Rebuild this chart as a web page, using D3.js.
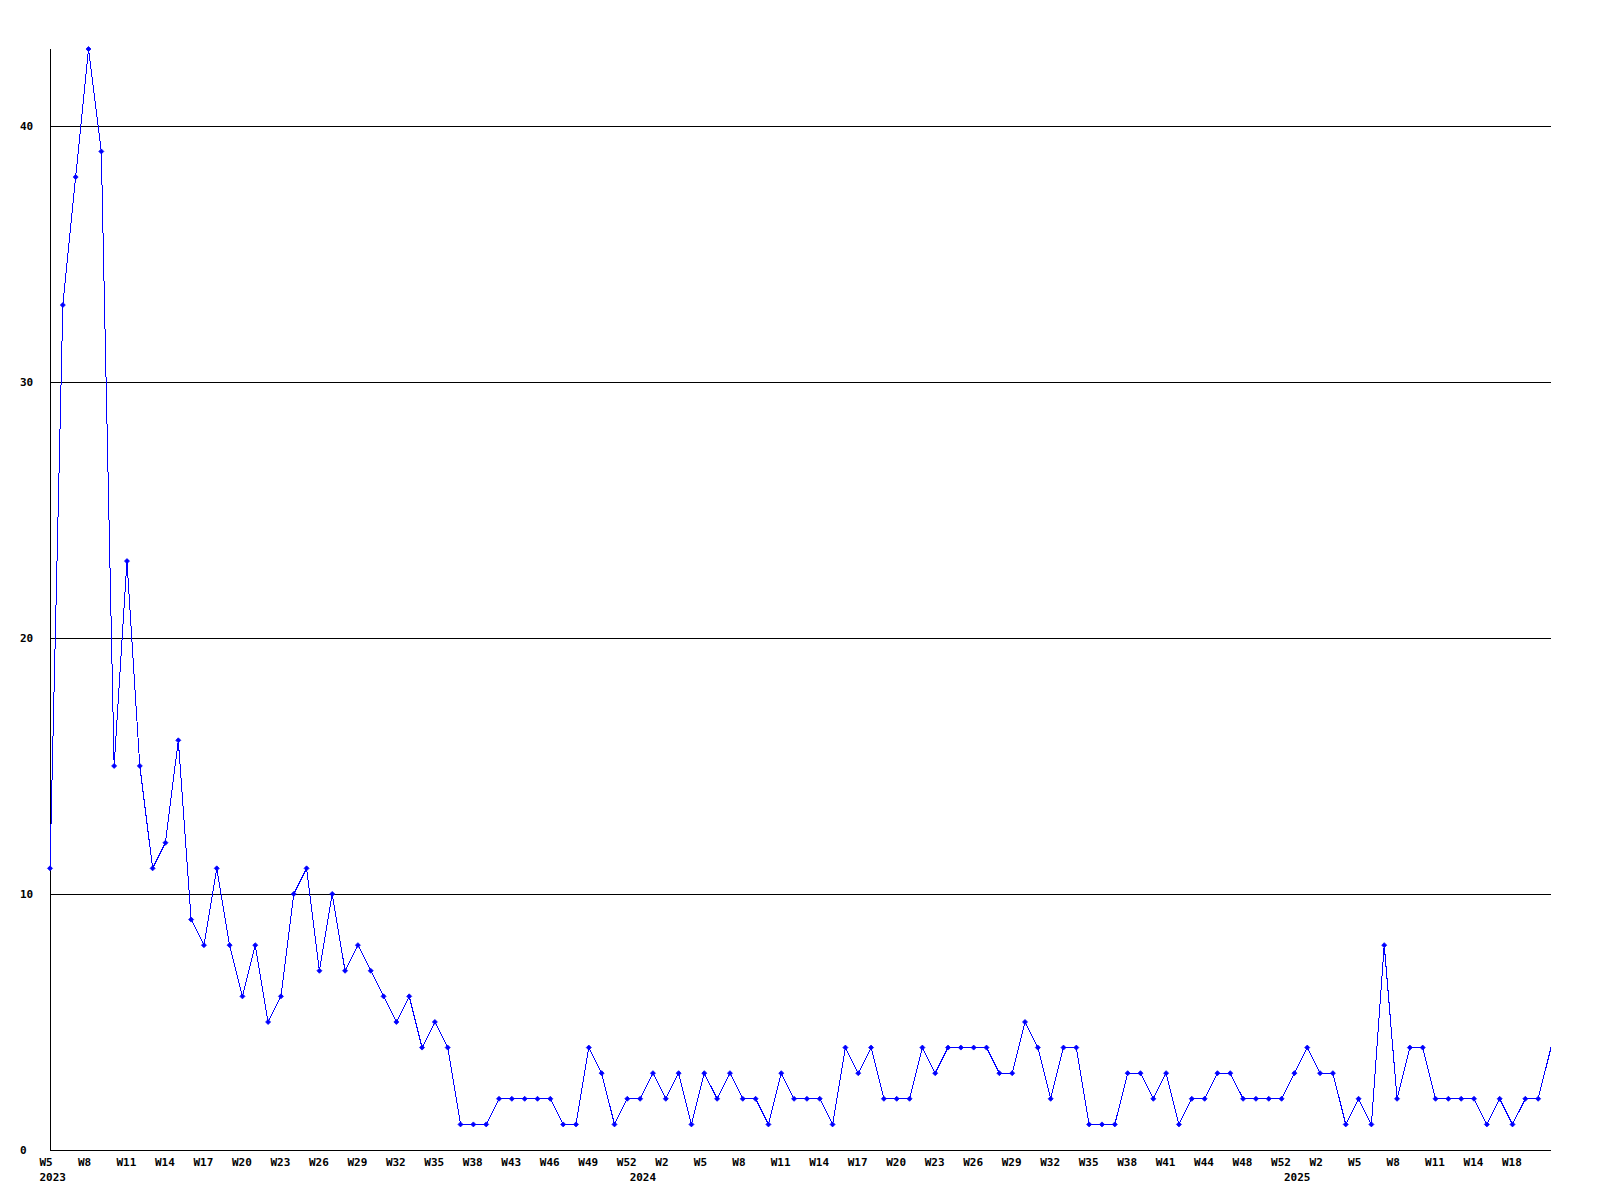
<!DOCTYPE html>
<html><head><meta charset="utf-8">
<script src="https://cdn.jsdelivr.net/npm/d3@7"></script>
<style>
body{margin:0;background:#fff}
svg{display:block;background:#fff}
text{font-family:"DejaVu Sans Mono","Liberation Mono",monospace;font-weight:bold;font-size:11px;fill:#000}
</style>
</head><body>
<svg id="chart" width="1600" height="1200"></svg>
<script>
// Weekly counts, one per data point (2023 W5 onward)
const values = [
  11,33,38,43,39,15,23,15,11,12,16,9,8,11,8,6,8,5,6,10,
  11,7,10,7,8,7,6,5,6,4,5,4,1,1,1,2,2,2,2,2,
  1,1,4,3,1,2,2,3,2,3,1,3,2,3,2,2,1,3,2,2,
  2,1,4,3,4,2,2,2,4,3,4,4,4,4,3,3,5,4,2,4,
  4,1,1,1,3,3,2,3,1,2,2,3,3,2,2,2,2,3,4,3,
  3,1,2,1,8,2,4,4,2,2,2,2,1,2,1,2,2,4
];
// Week tick labels, shown on every 3rd point
const tickLabels = [
  "W5","W8","W11","W14","W17","W20","W23","W26","W29","W32","W35","W38","W43","W46","W49","W52",
  "W2","W5","W8","W11","W14","W17","W20","W23","W26","W29","W32","W35","W38","W41","W44","W48","W52",
  "W2","W5","W8","W11","W14","W18"
];
const tickEvery = 3;
// Year labels and the index of the first point of each year
const yearLabels = ["2023","2024","2025"];
const yearStartIndex = [0,46,97];
const yTicks = [0,10,20,30,40];
const yGrid = [10,20,30,40];

const svg = d3.select("#chart");
const x = d3.scaleLinear().domain([0, values.length - 1]).range([50, 1551]);
const y = d3.scaleLinear().domain([0, 43]).range([1150, 49]);

const crisp = v => Math.round(v) + 0.5;

// grid lines
svg.append("g").selectAll("line").data(yGrid).join("line")
  .attr("x1", x(0)).attr("x2", x(values.length - 1))
  .attr("y1", d => crisp(y(d))).attr("y2", d => crisp(y(d)))
  .attr("stroke", "#000").attr("stroke-width", 1).attr("shape-rendering", "crispEdges");

// axes lines
svg.append("line").attr("x1", crisp(x(0))).attr("x2", crisp(x(0)))
  .attr("y1", y(43)).attr("y2", crisp(y(0)))
  .attr("stroke", "#000").attr("shape-rendering", "crispEdges");
svg.append("line").attr("x1", x(0)).attr("x2", x(values.length - 1))
  .attr("y1", crisp(y(0))).attr("y2", crisp(y(0)))
  .attr("stroke", "#000").attr("shape-rendering", "crispEdges");

// y labels
svg.append("g").selectAll("text").data(yTicks).join("text")
  .attr("x", 20).attr("y", d => y(d) + 4)
  .text(d => d);

// x week labels
svg.append("g").selectAll("text").data(tickLabels).join("text")
  .attr("x", (d, i) => x(i * tickEvery) - 10.5)
  .attr("y", 1166)
  .text(d => d);

// year labels
svg.append("g").selectAll("text").data(yearLabels).join("text")
  .attr("x", (d, i) => x(yearStartIndex[i]) - 10.5)
  .attr("y", 1181)
  .text(d => d);

// line
const line = d3.line().x((d, i) => x(i)).y(d => y(d));
svg.append("path").datum(values)
  .attr("d", line)
  .attr("fill", "none").attr("stroke", "#0000ff").attr("stroke-width", 1)
  .attr("shape-rendering", "crispEdges");

// markers (last point has none in the reference)
const r = 2.5;
svg.append("g").selectAll("path").data(values.slice(0, -1)).join("path")
  .attr("transform", (d, i) => `translate(${x(i)},${y(d)})`)
  .attr("d", `M0,${-r}L${r},0L0,${r}L${-r},0Z`)
  .attr("fill", "#0000ff").attr("stroke", "#0000ff").attr("stroke-width", 0.8);
</script>
</body></html>
